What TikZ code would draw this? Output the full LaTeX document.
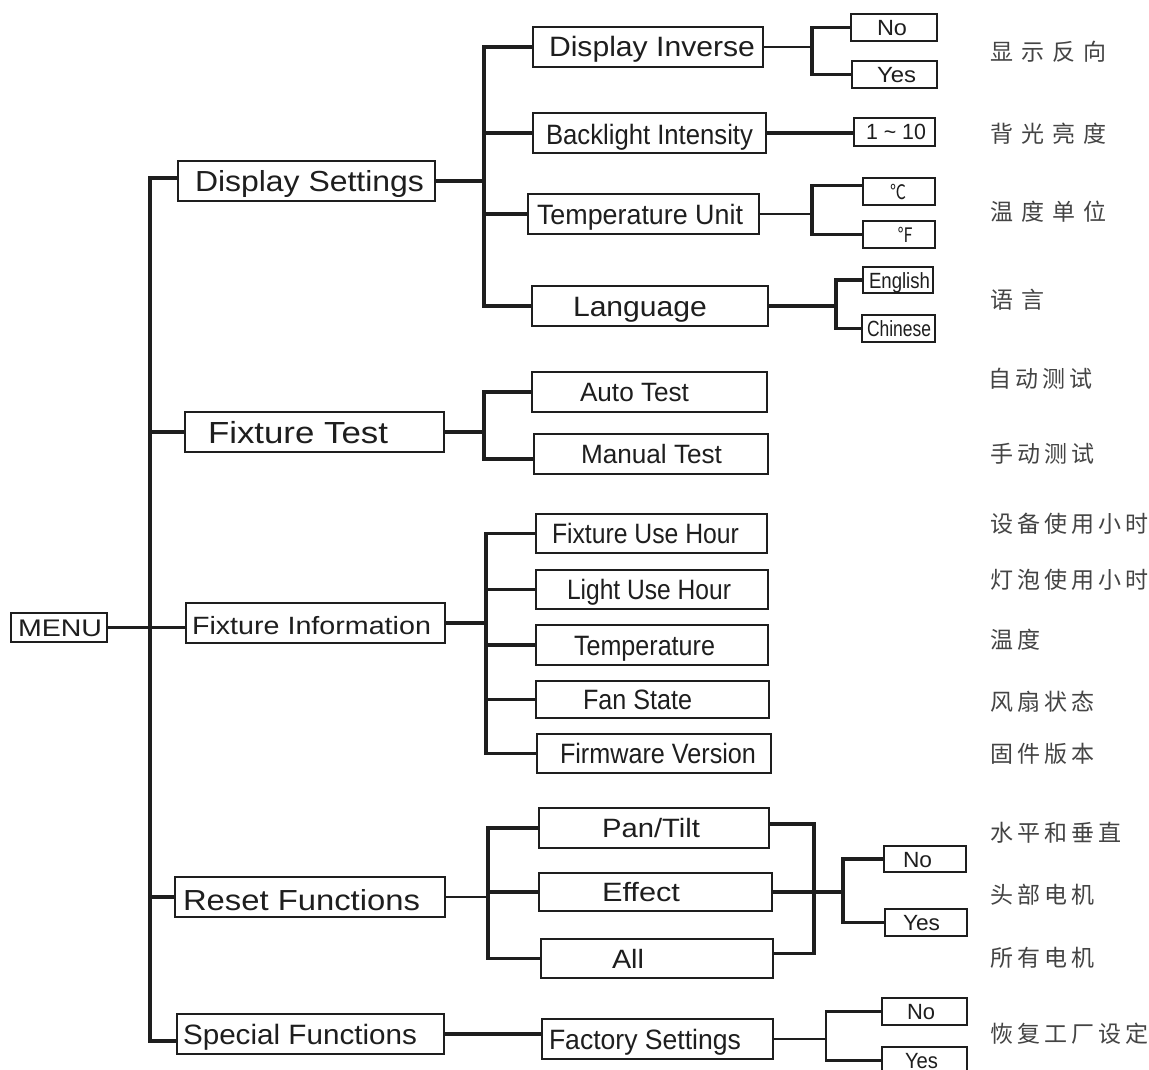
\documentclass[tikz,border=0pt]{standalone}
\usepackage{fontspec}
\setmainfont{Liberation Sans}
\newfontfamily\cjk{Noto Sans CJK SC}
\newfontfamily\cjkwide[LetterSpace=35]{Noto Sans CJK SC}
\newfontfamily\cjknarrow[LetterSpace=18]{Noto Sans CJK SC}
\usetikzlibrary{calc}
\definecolor{ink}{HTML}{1E1E1E}
\definecolor{zhgray}{HTML}{444444}
\newsavebox\fitbx
\newcommand\fitw[2]{\sbox\fitbx{#2}\pgfmathsetmacro\fitfac{#1/\the\wd\fitbx}\scalebox{\fitfac}[1]{\usebox\fitbx}}
\newcommand\tx[4]{\makebox[#1pt][l]{\hspace*{#2pt}\fitw{#3}{#4}}}
\begin{document}
\begin{tikzpicture}[x=1pt,y=-1pt,
  bx/.style={draw=ink, line width=2.3pt, inner sep=0pt, text depth=0pt, text=ink},
  fsz/.style={font=\fontsize{#1}{#1}\selectfont},
  ch/.style={text height=#1pt},
  mh/.style={minimum height=#1pt},
  ln/.style={draw=ink, line width=3.3pt},
  lnb/.style={draw=ink, line width=2.4pt},
  zhw/.style={anchor=west, inner sep=0pt, text=zhgray, font=\cjkwide\fontsize{23}{23}\selectfont},
  zhn/.style={anchor=west, inner sep=0pt, text=zhgray, font=\cjknarrow\fontsize{23}{23}\selectfont}]
\useasboundingbox (0,0) rectangle (1149,1070);
\fill[white] (0,0) rectangle (1149,1070);

% level 0 and 1
\node[bx, fsz=24, ch=17, mh=29, line width=1.3pt] (menu) at (59,627.5) {\tx{96}{7}{84}{MENU}};
\node[bx, fsz=29, ch=20.7, mh=40] (ds) at (306.5,181) {\tx{257}{17}{229}{Display Settings}};
\node[bx, fsz=30.5, ch=22, mh=40] (ft) at (314.5,432) {\tx{259}{23}{180}{Fixture Test}};
\node[bx, fsz=25, ch=22, mh=40] (fi) at (315.5,623) {\tx{259}{6}{239}{Fixture Information}};
\node[bx, fsz=29, ch=27.7, mh=40] (rf) at (310,897) {\tx{270}{8}{237}{Reset Functions}};
\node[bx, fsz=28, ch=20, mh=40] (sf) at (310.5,1034) {\tx{267}{6}{234}{Special Functions}};

% display settings children
\node[bx, fsz=28, ch=20, mh=40] (di) at (648,47) {\tx{230}{16}{206}{Display Inverse}};
\node[bx, fsz=22, ch=16, mh=27] (dino) at (894,27.5) {\tx{86}{26}{30}{No}};
\node[bx, fsz=22, ch=16, mh=27] (diyes) at (894.5,74.5) {\tx{85}{25}{39}{Yes}};
\node[bx, fsz=28, ch=24, mh=40] (bi) at (649.5,133) {\tx{233}{13}{207}{Backlight Intensity}};
\node[bx, fsz=22, ch=16, mh=28] (r10) at (894.5,132) {\tx{81}{12}{60}{1 \textasciitilde{} 10}};
\node[bx, fsz=28, ch=20, mh=40] (tu) at (643.5,214) {\tx{231}{9}{206}{Temperature Unit}};
\node[bx, fsz=20, ch=16, mh=27] (cc) at (899,191.5) {\tx{72}{27}{16}{\cjk ℃}};
\node[bx, fsz=20, ch=16, mh=27] (ff) at (899,234.5) {\tx{72}{34}{16}{\cjk ℉}};
\node[bx, fsz=28, ch=20, mh=40] (lg) at (650,306) {\tx{236}{41}{134}{Language}};
\node[bx, fsz=22, ch=16, mh=26] (en) at (898,280) {\tx{70}{6}{61}{English}};
\node[bx, fsz=22, ch=16, mh=27] (cn) at (898.5,328.5) {\tx{73}{5}{64}{Chinese}};

% fixture test children
\node[bx, fsz=26.5, ch=19, mh=40] (at) at (649.5,392) {\tx{235}{48}{109}{Auto Test}};
\node[bx, fsz=26.5, ch=19, mh=40] (mt) at (651,454) {\tx{234}{47}{141}{Manual Test}};

% fixture information children
\node[bx, fsz=28, ch=20, mh=39] (fu) at (651.5,533.5) {\tx{231}{16}{187}{Fixture Use Hour}};
\node[bx, fsz=28, ch=20, mh=39] (lu) at (652,589.5) {\tx{232}{31}{164}{Light Use Hour}};
\node[bx, fsz=28, ch=20, mh=40] (te) at (652,645) {\tx{232}{38}{141}{Temperature}};
\node[bx, fsz=28, ch=20, mh=37] (fan) at (652.5,699.5) {\tx{233}{47}{109}{Fan State}};
\node[bx, fsz=28, ch=20, mh=39] (fw) at (654,753.5) {\tx{234}{23}{196}{Firmware Version}};

% reset children
\node[bx, fsz=26.5, ch=19, mh=40] (pt) at (654,828) {\tx{230}{63}{98}{Pan/Tilt}};
\node[bx, fsz=26.5, ch=19, mh=38] (ef) at (655.5,892) {\tx{233}{63}{78}{Effect}};
\node[bx, fsz=26.5, ch=19, mh=39] (al) at (657,958.5) {\tx{232}{71}{32}{All}};
\node[bx, fsz=22, ch=16, mh=26] (rno) at (925,859) {\tx{82}{19}{29}{No}};
\node[bx, fsz=22, ch=16, mh=27] (ryes) at (926,922.5) {\tx{82}{18}{37}{Yes}};

% special children
\node[bx, fsz=28, ch=20, mh=40] (fset) at (657.5,1039) {\tx{231}{7}{192}{Factory Settings}};
\node[bx, fsz=22, ch=16, mh=27] (sno) at (924.5,1011.5) {\tx{85}{25}{28}{No}};
\node[bx, fsz=22, ch=16, mh=27] (syes) at (924.5,1060.5) {\tx{85}{23}{33}{Yes}};

% bus x positions
\coordinate (tk) at (150,0);
\coordinate (v1) at (484,0);
\coordinate (v2) at (812,0);
\coordinate (v3) at (812,0);
\coordinate (v4) at (836,0);
\coordinate (v5) at (484,0);
\coordinate (v6) at (486,0);
\coordinate (v7) at (488,0);
\coordinate (v8) at (814,0);
\coordinate (v9) at (843,0);
\coordinate (v10) at (826,0);

% trunk
\coordinate (dsin) at ($(ds.west)+(0,-3)$);
\coordinate (sfin) at ($(sf.west)+(0,7)$);
\draw[ln] (dsin) -| (sfin -| tk) -- (sfin);
\draw[ln] (menu.east) -- (menu.east -| fi.west);
\draw[ln] (ft.west) -- (ft.west -| tk);
\draw[ln] (rf.west) -- (rf.west -| tk);

% display settings
\draw[ln] (ds.east) -- (ds.east -| v1);
\draw[ln] (di.west) -| (lg.west -| v1) -- (lg.west);
\draw[ln] (bi.west) -- (bi.west -| v1);
\draw[ln] (tu.west) -- (tu.west -| v1);
\draw[lnb] (di.east) -- (di.east -| v2);
\draw[ln] (dino.west) -| (diyes.west -| v2) -- (diyes.west);
\draw[ln] (bi.east) -- (bi.east -| r10.west);
\draw[lnb] (tu.east) -- (tu.east -| v3);
\coordinate (ccin) at ($(cc.west)+(0,-6)$);
\draw[ln] (ccin) -| (ff.west -| v3) -- (ff.west);
\draw[ln] (lg.east) -- (lg.east -| v4);
\draw[ln] (en.west) -| (cn.west -| v4) -- (cn.west);

% fixture test
\draw[ln] (ft.east) -- (ft.east -| v5);
\coordinate (mtin) at ($(mt.west)+(0,5)$);
\draw[ln] (at.west) -| (mtin -| v5) -- (mtin);

% fixture information
\draw[ln] (fi.east) -- (fi.east -| v6);
\draw[ln] (fu.west) -| (fw.west -| v6) -- (fw.west);
\draw[ln] (lu.west) -- (lu.west -| v6);
\draw[ln] (te.west) -- (te.west -| v6);
\draw[ln] (fan.west) -- (fan.west -| v6);

% reset functions
\draw[lnb] (rf.east) -- (rf.east -| v7);
\draw[ln] (pt.west) -| (al.west -| v7) -- (al.west);
\draw[ln] (ef.west) -- (ef.west -| v7);
\coordinate (ptout) at ($(pt.east)+(0,-4)$);
\coordinate (alout) at ($(al.east)+(0,-5)$);
\draw[ln] (ptout) -| (alout -| v8) -- (alout);
\draw[ln] (ef.east) -- (ef.east -| v9);
\draw[ln] (rno.west) -| (ryes.west -| v9) -- (ryes.west);

% special functions
\draw[ln] (sf.east) -- (sf.east -| fset.west);
\draw[lnb] (fset.east) -- (fset.east -| v10);
\draw[lnb] (sno.west) -| (syes.west -| v10) -- (syes.west);

% Chinese labels
\node[zhw] (z1) at (990,52) {显示反向};
\node[zhw] (z2) at (990,134) {背光亮度};
\node[zhw] (z3) at (990,212) {温度单位};
\node[zhw] (z4) at (990,300) {语言};
\node[zhn] (z5) at (988,379) {自动测试};
\node[zhn] (z6) at (990,454) {手动测试};
\node[zhn] (z7) at (990,524) {设备使用小时};
\node[zhn] (z8) at (990,580) {灯泡使用小时};
\node[zhn] (z9) at (990,640) {温度};
\node[zhn] (z10) at (990,702) {风扇状态};
\node[zhn] (z11) at (990,754) {固件版本};
\node[zhn] (z12) at (990,833) {水平和垂直};
\node[zhn] (z13) at (990,895) {头部电机};
\node[zhn] (z14) at (990,958) {所有电机};
\node[zhn] (z15) at (990,1034) {恢复工厂设定};
\end{tikzpicture}
\end{document}
